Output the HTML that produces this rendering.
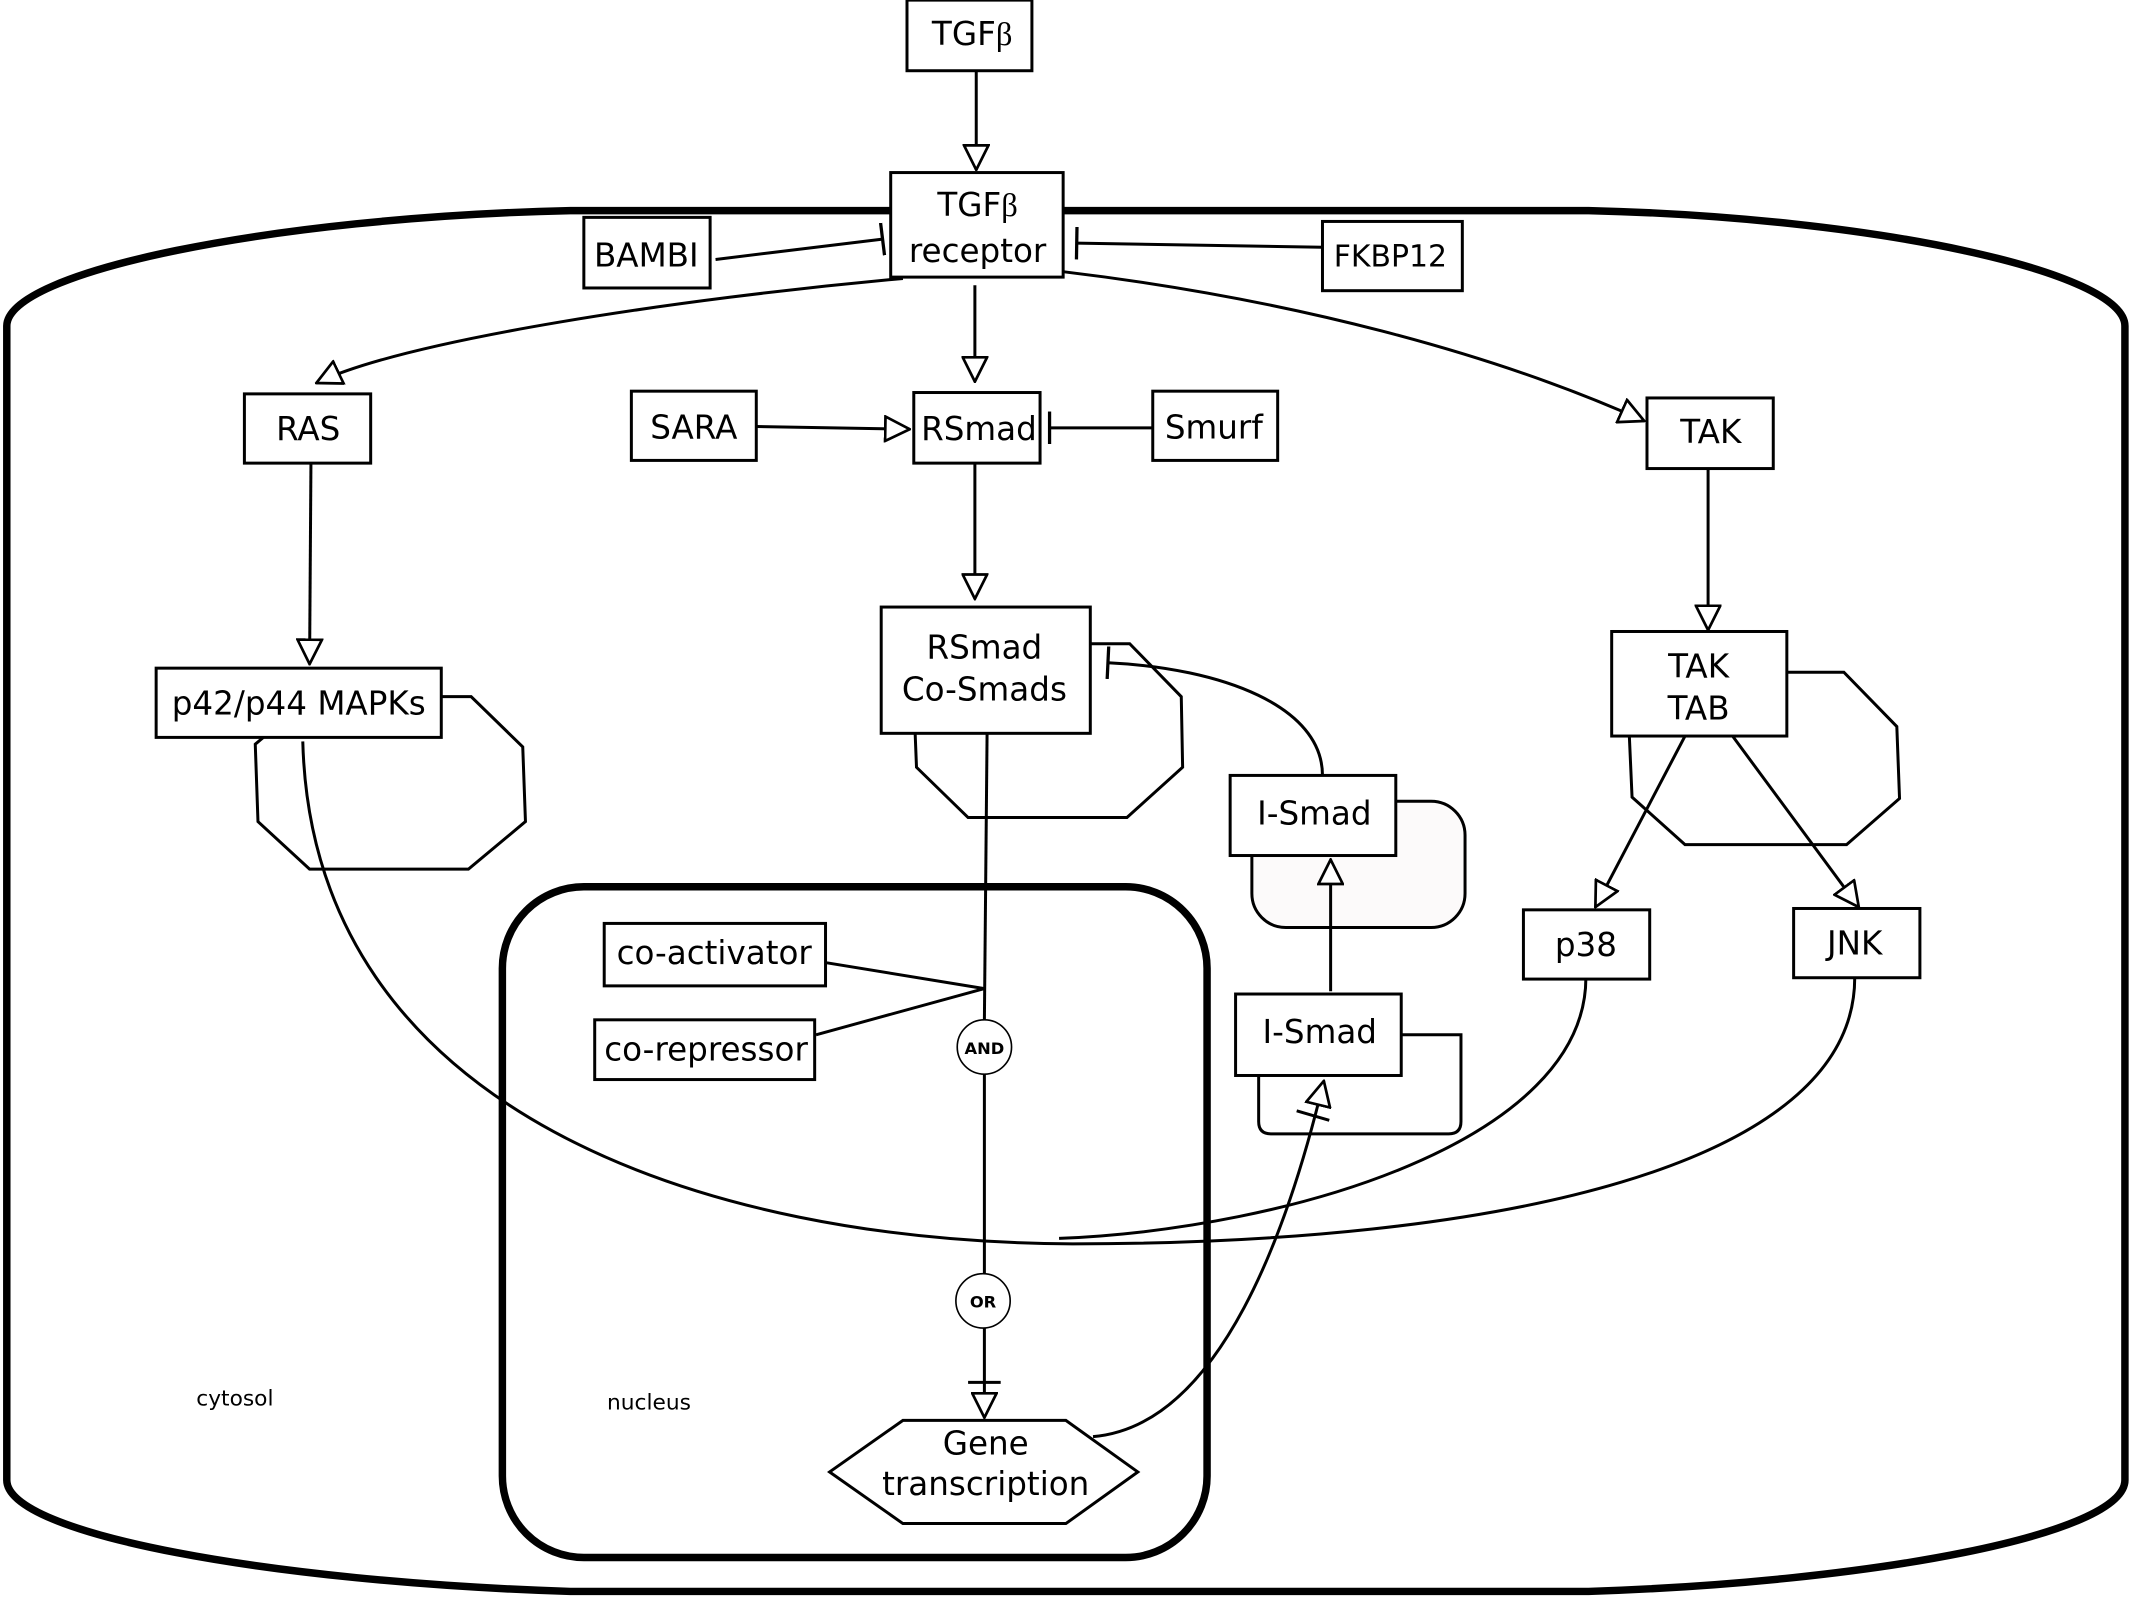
<!DOCTYPE html>
<html><head><meta charset="utf-8"><style>
html,body{margin:0;padding:0;background:#fff;}
svg{display:block;}
text{font-family:"DejaVu Sans","Liberation Sans",sans-serif;fill:#000;}
</style></head><body>
<svg width="2129" height="1597" viewBox="0 0 1568 1176" xmlns="http://www.w3.org/2000/svg">
<defs>
<marker id="a" viewBox="0 0 20 20" refX="19" refY="10" markerWidth="20" markerHeight="20" markerUnits="userSpaceOnUse" orient="auto">
<path d="M1,1 L19,10 L1,19 Z" fill="#fff" stroke="#000" stroke-width="2"/></marker>
<marker id="b" viewBox="0 0 4 24" refX="2" refY="12" markerWidth="4" markerHeight="24" markerUnits="userSpaceOnUse" orient="auto">
<path d="M2,0 L2,24" stroke="#000" stroke-width="2.4"/></marker>
</defs>
<g fill="none" stroke="#000">
<path d="M5,240 C5,200 200,160 420,155 L1170,155 C1380,160 1565,200 1565,240 L1565,1090 C1565,1130 1380,1165 1170,1172 L420,1172 C200,1165 5,1130 5,1090 Z" stroke-width="5.5"/>
<rect x="370" y="653" width="519" height="494" rx="60" stroke-width="5.5"/>
</g>
<g fill="none" stroke="#000" stroke-width="2.2">
<rect x="922" y="590" width="157" height="93" rx="25" fill="#fcfafa"/>
<path d="M1032,762 L1076,762 L1076,826 Q1076,835 1067,835 L936,835 Q927,835 927,826 L927,792"/>
<path d="M325,513 L347,513 L385,550 L387,605 L345,640 L228,640 L190,605 L188,548 L194,543"/>
<path d="M803,474 L832,474 L870,513 L871,565 L830,602 L713,602 L675,565 L674,540"/>
<path d="M1316,495 L1358,495 L1397,535 L1399,588 L1360,622 L1241,622 L1202,587 L1200,542"/>
<line x1="719" y1="52" x2="719" y2="125" marker-end="url(#a)"/>
<line x1="527" y1="191" x2="650" y2="176" marker-end="url(#b)"/>
<line x1="974" y1="182" x2="793" y2="179" marker-end="url(#b)"/>
<line x1="718" y1="210" x2="718" y2="281" marker-end="url(#a)"/>
<path d="M665,205 C500,220 300,250 233,282" marker-end="url(#a)"/>
<path d="M783,200 C950,220 1100,260 1211,310" marker-end="url(#a)"/>
<line x1="557" y1="314" x2="670" y2="316" marker-end="url(#a)"/>
<line x1="849" y1="315" x2="773" y2="315" marker-end="url(#b)"/>
<line x1="229" y1="342" x2="228" y2="489" marker-end="url(#a)"/>
<line x1="718" y1="342" x2="718" y2="441" marker-end="url(#a)"/>
<line x1="1258" y1="346" x2="1258" y2="464" marker-end="url(#a)"/>
<line x1="1241" y1="542" x2="1175" y2="668" marker-end="url(#a)"/>
<line x1="1276" y1="542" x2="1369" y2="668" marker-end="url(#a)"/>
<line x1="980" y1="730" x2="980" y2="633" marker-end="url(#a)"/>
<path d="M974,571 C974,520 900,492 816,488" marker-end="url(#b)"/>
<path d="M223,546 C230,820 520,915 790,916 C1100,916 1366,860 1366,720"/>
<path d="M1168,720 C1168,840 950,905 780,912"/>
<line x1="727" y1="538" x2="725" y2="751"/>
<line x1="609" y1="709" x2="725" y2="728"/>
<line x1="601" y1="762" x2="725" y2="728"/>
<line x1="725" y1="791" x2="725" y2="938"/>
<line x1="725" y1="978" x2="725" y2="1044" marker-end="url(#a)"/>
<line x1="713" y1="1018" x2="737" y2="1018"/>
<path d="M805,1058 C900,1050 950,900 975,796" marker-end="url(#a)"/>
<line x1="955" y1="818" x2="979" y2="825"/>
</g>
<g fill="#fff" stroke="#000" stroke-width="2.2">
<rect x="668" y="0" width="92" height="52"/>
<rect x="656" y="127" width="127" height="77"/>
<rect x="430" y="160" width="93" height="52"/>
<rect x="974" y="163" width="103" height="51"/>
<rect x="180" y="290" width="93" height="51"/>
<rect x="465" y="288" width="92" height="51"/>
<rect x="673" y="289" width="93" height="52"/>
<rect x="849" y="288" width="92" height="51"/>
<rect x="1213" y="293" width="93" height="52"/>
<rect x="115" y="492" width="210" height="51"/>
<rect x="649" y="447" width="154" height="93"/>
<rect x="1187" y="465" width="129" height="77"/>
<rect x="906" y="571" width="122" height="59"/>
<rect x="910" y="732" width="122" height="60"/>
<rect x="1122" y="670" width="93" height="51"/>
<rect x="1321" y="669" width="93" height="51"/>
<rect x="445" y="680" width="163" height="46"/>
<rect x="438" y="751" width="162" height="44"/>
<polygon points="611,1084 665,1046 785,1046 838,1084 785,1122 665,1122"/>
</g>
<g fill="#fff" stroke="#000" stroke-width="1.2">
<circle cx="725" cy="771" r="20"/>
<circle cx="724" cy="958" r="20"/>
</g>
<g font-size="24" text-anchor="middle">
<text x="716" y="33">TGF<tspan font-family="Liberation Serif">β</tspan></text>
<text x="720" y="159">TGF<tspan font-family="Liberation Serif">β</tspan></text>
<text x="720" y="193">receptor</text>
<text x="476" y="196">BAMBI</text>
<text x="1024" y="196" font-size="22">FKBP12</text>
<text x="227" y="324">RAS</text>
<text x="511" y="323">SARA</text>
<text x="721" y="324">RSmad</text>
<text x="894" y="323">Smurf</text>
<text x="1260" y="326">TAK</text>
<text x="220" y="526">p42/p44 MAPKs</text>
<text x="725" y="485">RSmad</text>
<text x="725" y="516">Co-Smads</text>
<text x="1251" y="499">TAK</text>
<text x="1251" y="530">TAB</text>
<text x="968" y="607">I-Smad</text>
<text x="972" y="768">I-Smad</text>
<text x="1168" y="704">p38</text>
<text x="1366" y="703">JNK</text>
<text x="526" y="710">co-activator</text>
<text x="520" y="781">co-repressor</text>
<text x="726" y="1071">Gene</text>
<text x="726" y="1101">transcription</text>
<text x="725" y="776" font-size="12" font-weight="bold">AND</text>
<text x="724" y="963" font-size="12" font-weight="bold">OR</text>
<text x="173" y="1035" font-size="16">cytosol</text>
<text x="478" y="1038" font-size="16">nucleus</text>
</g>
</svg>
</body></html>
